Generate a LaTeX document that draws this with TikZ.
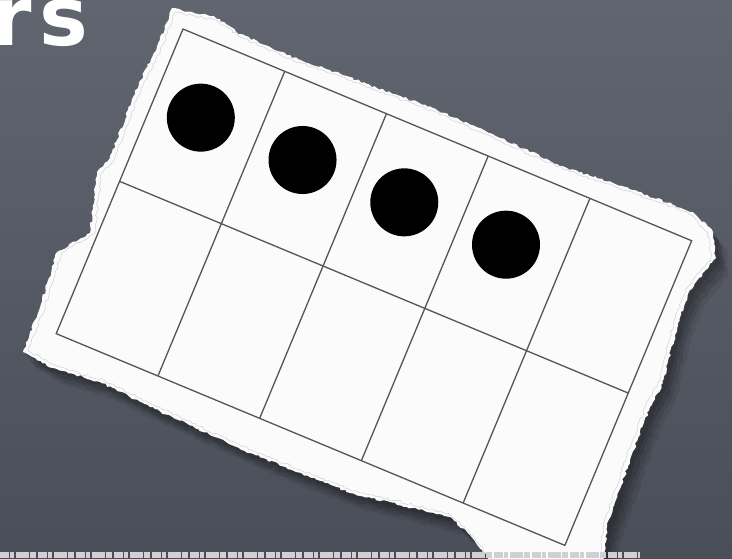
\documentclass[tikz,border=0pt]{standalone}
\usepackage{fontspec}
\setmainfont{DejaVu Sans}
\usetikzlibrary{decorations.pathmorphing}
\definecolor{boardtop}{HTML}{61656F}
\definecolor{boardbottom}{HTML}{4A4E58}
\definecolor{paperwhite}{HTML}{FBFBFB}
\definecolor{gridgray}{HTML}{555555}
\definecolor{stripgray}{HTML}{CFD0D3}
% torn sheet outline, in pixel units of the picture
\newcommand\papersheet[1]{\path[#1] (172,8) -- (192,12) -- (214,16) -- (240,34) -- (287,55)
  -- (330,70) -- (377,88) -- (433,108) -- (500,138) -- (567,168) -- (633,190) -- (693,212)
  -- (713,232) -- (716,258) -- (690,290) -- (678,323) -- (663,383) -- (650,407) -- (630,460)
  -- (607,527) -- (603,566) -- (495,566) -- (470,535) -- (450,517) -- (350,493) -- (250,453)
  -- (150,407) -- (100,382) -- (53,368) -- (23,352) -- (40,307) -- (57,252) -- (90,233)
  -- (97,172) -- (110,158) -- (133,97) -- (160,40) -- cycle;}
\begin{document}
\begin{tikzpicture}[x=1pt,y=-1pt,
  torn/.style={decorate,decoration={random steps,segment length=3pt,amplitude=1.2pt}},
  gridline/.style={draw=gridgray,line width=1.3pt},
  dot/.style={fill=black}]
\useasboundingbox (0,0) rectangle (732,558);
\clip (0,0) rectangle (732,558);
% chalkboard
\shade[top color=boardtop,bottom color=boardbottom] (0,0) rectangle (732,558);
% title remnant
\node[anchor=base east,inner sep=0pt,text=white,font=\bfseries\fontsize{82}{82}\selectfont] (title) at (89,45) {r\kern8pt s};
% shadow under the sheet
\foreach \dx/\dy/\op in {4/5/0.12,7/9/0.12,10/13/0.10,13/17/0.08}{
  \papersheet{fill=black,opacity=\op,shift={(\dx,\dy)},torn}
}
% the sheet
\papersheet{fill=paperwhite,torn}
\papersheet{draw=black!18,line width=0.5pt,shift={(380,280)},scale=0.985,shift={(-380,-280)},torn}
% ten frame
\begin{scope}[shift={(183,29)},rotate=-22.6]
  \draw[gridline] (0,0) rectangle (551,330);
  \draw[gridline] (0,165) -- (551,165);
  \foreach \i in {1,...,4}
    \draw[gridline] (\i*110.2,0) -- (\i*110.2,330);
  \foreach \i in {0,...,3}
    \fill[dot] (50.5+\i*110.2,75) circle[radius=34pt];
\end{scope}
% strip along the lower border
\draw[stripgray,line width=6pt,dash pattern=on 9pt off 1pt on 4pt off 2pt on 13pt off 1pt on 6pt off 2pt] (0,555) -- (640,555);
\end{tikzpicture}
\end{document}
